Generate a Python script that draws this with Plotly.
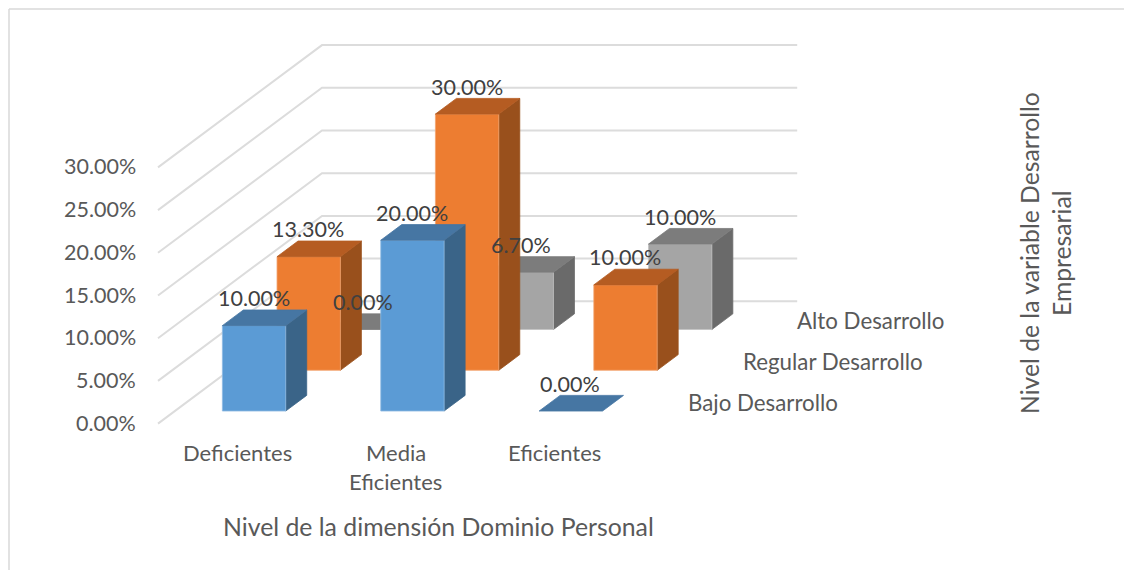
import plotly.graph_objects as go

categories = ["Deficientes", "Media\nEficientes", "Eficientes"]
series_names = ["Bajo Desarrollo", "Regular Desarrollo", "Alto Desarrollo"]
bajo = [10.0, 20.0, 0.0]
regular = [13.3, 30.0, 10.0]
alto = [0.0, 6.7, 10.0]
tick_values = [0, 5, 10, 15, 20, 25, 30]
x_title = "Nivel de la dimensión Dominio Personal"
z_title = ["Nivel de la variable Desarrollo", "Empresarial"]

series_values = [bajo, regular, alto]
face_colors = [
    ("#5B9BD5", "#4676A3", "#3A6488"),
    ("#ED7D31", "#B55C22", "#99501C"),
    ("#A5A5A5", "#7C7C7C", "#6A6A6A"),
]
edge_colors = ["#8FBBE3", "#F2A36E", "#C2C2C2"]

# The page has an 8px body margin: the figure covers page pixels 8..1132 / 8..570
PAGE_W, PAGE_H, BODY = 1132, 570, 8

# Oblique projection of the chart box on to the page (pixels)
X0, Y0 = 158.0, 423.6      # front-left corner of floor
DEPTH_X, DEPTH_Y = 164.0, -122.3
CAT_W = 158.4
PX_PER_UNIT = 8.54
BAR_W = 0.40               # fraction of a category
BAR_D = 0.128              # fraction of total depth
N_ROWS = len(series_names)
N_CATS = len(categories)


def project(c, d, v):
    return (X0 + c * CAT_W + d * DEPTH_X, Y0 + d * DEPTH_Y - v * PX_PER_UNIT)


fig = go.Figure()


def poly(points, fill, edge):
    xs = [p[0] for p in points] + [points[0][0]]
    ys = [p[1] for p in points] + [points[0][1]]
    fig.add_trace(go.Scatter(x=xs, y=ys, mode="lines", fill="toself", fillcolor=fill,
                             line=dict(color=edge, width=0.8), hoverinfo="skip", showlegend=False))


GRID = "#DCDCDC"
for t in tick_values:
    a, b, c = project(0, 0, t), project(0, 1, t), project(N_CATS, 1, t)
    fig.add_trace(go.Scatter(x=[a[0], b[0], c[0]], y=[a[1], b[1], c[1]], mode="lines",
                             line=dict(color=GRID, width=2), hoverinfo="skip", showlegend=False))

annotations = []


def label(x, y, text, size=22, color="#595959", anchor="center", angle=0):
    annotations.append(dict(x=x, y=y, xref="x", yref="y", text=text, showarrow=False,
                            xanchor=anchor, yanchor="middle", textangle=angle,
                            font=dict(family="Lato, Carlito, sans-serif", size=size, color=color)))


# Bars, drawn back to front
for r in reversed(range(N_ROWS)):
    front, top, side = face_colors[r]
    d0 = (r + 0.5) / N_ROWS - BAR_D / 2
    d1 = d0 + BAR_D
    for i, v in enumerate(series_values[r]):
        c0 = i + 0.5 - BAR_W / 2
        c1 = c0 + BAR_W
        edge = edge_colors[r]
        if v > 0:
            poly([project(c1, d0, 0), project(c1, d1, 0), project(c1, d1, v), project(c1, d0, v)], side, side)
            poly([project(c0, d0, 0), project(c1, d0, 0), project(c1, d0, v), project(c0, d0, v)], front, edge)
        poly([project(c0, d0, v), project(c1, d0, v), project(c1, d1, v), project(c0, d1, v)], top, top)

# Data labels
for r in range(N_ROWS):
    d0 = (r + 0.5) / N_ROWS - BAR_D / 2
    for i, v in enumerate(series_values[r]):
        x, y = project(i + 0.5, d0, v)
        label(x - 0.5, y - 27.5, f"{v:.2f}%", size=21.5, color="#404040")

# Value axis
for t in tick_values:
    x, y = project(0, 0, t)
    label(x - 20.5, y - 1, f"{t:.2f}%", size=21.5, anchor="right")

# Category axis
for i, cat in enumerate(categories):
    x, y = project(i + 0.5, 0, 0)
    for k, line in enumerate(cat.split("\n")):
        label(x, y + 29 + k * 29, line)

# Series axis
for r, name in enumerate(series_names):
    x, y = project(N_CATS, (r + 0.5) / N_ROWS, 0)
    label(x + 25.5, y - 1, name, size=22.3, anchor="left")

label(438.5, 526.5, x_title, size=24.8)
label(1029, 253, z_title[0], size=24.7, angle=-90)
label(1061, 253, z_title[1], size=24.7, angle=-90)

fig.update_layout(
    width=PAGE_W - BODY, height=PAGE_H - BODY, autosize=False,
    margin=dict(l=0, r=0, t=0, b=0),
    paper_bgcolor="white", plot_bgcolor="white",
    xaxis=dict(range=[BODY, PAGE_W], visible=False, fixedrange=True),
    yaxis=dict(range=[PAGE_H, BODY], visible=False, fixedrange=True),
    annotations=annotations,
    showlegend=False,
    shapes=[dict(type="line", xref="x", yref="y", x0=9, y0=9, x1=PAGE_W, y1=9,
                 line=dict(color="#D9D9D9", width=1.5)),
            dict(type="line", xref="x", yref="y", x0=9, y0=9, x1=9, y1=PAGE_H,
                 line=dict(color="#D9D9D9", width=1.5))],
)
fig.write_html("out.html", config=dict(displayModeBar=False))
